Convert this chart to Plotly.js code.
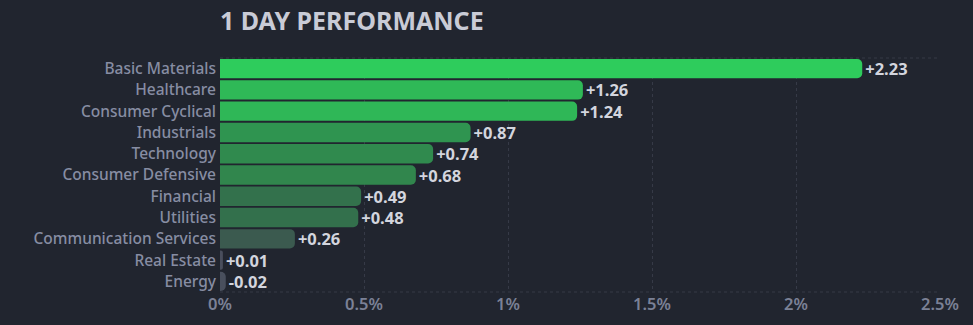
<!DOCTYPE html>
<html>
<head>
<meta charset="utf-8">
<script src="https://cdn.plot.ly/plotly-3.0.1.min.js"></script>
<style>
  html, body { margin: 0; padding: 0; background: #21252f; }
  #chart { width: 973px; height: 325px; }
</style>
</head>
<body>
<div id="chart"></div>
<script>
const sectors = ["Basic Materials", "Healthcare", "Consumer Cyclical", "Industrials", "Technology",
  "Consumer Defensive", "Financial", "Utilities", "Communication Services", "Real Estate", "Energy"];
const changes = [2.23, 1.26, 1.24, 0.87, 0.74, 0.68, 0.49, 0.48, 0.26, 0.01, -0.02];
const xTickVals = [0, 0.5, 1, 1.5, 2, 2.5];
const xTickText = ["0%", "0.5%", "1%", "1.5%", "2%", "2.5%"];

const magnitudes = changes.map(v => Math.abs(v));
const labels = changes.map(v => (v >= 0 ? "+" : "") + v.toFixed(2));

const trace = {
  type: "bar",
  orientation: "h",
  y: sectors,
  x: magnitudes,
  text: labels,
  textposition: "outside",
  constraintext: "none",
  cliponaxis: false,
  textfont: { family: "Noto Sans, sans-serif", size: 16.5, color: "#d3d5de", weight: "bold" },
  marker: {
    color: magnitudes,
    cmin: 0,
    cmax: 2.23,
    colorscale: [
      [0, "#4a4e5e"],
      [0.117, "#3b5a4f"],
      [0.22, "#33714c"],
      [0.305, "#31864d"],
      [0.39, "#2f9450"],
      [0.565, "#2fb957"],
      [1, "#2ecc5c"]
    ],
    cornerradius: 5,
    line: { width: 0 }
  },
  hoverinfo: "none"
};

const layout = {
  width: 973,
  height: 325,
  paper_bgcolor: "#21252f",
  plot_bgcolor: "#21252f",
  margin: { l: 220, r: 33, t: 58, b: 33 },
  bargap: 0.09,
  showlegend: false,
  title: {
    text: "1 DAY PERFORMANCE",
    font: { family: "Noto Sans, sans-serif", size: 25, color: "#c9cbd6", weight: "bold" },
    xref: "paper",
    x: 0,
    xanchor: "left",
    y: 0.935,
    yanchor: "middle"
  },
  xaxis: {
    range: [0, 2.5],
    tickvals: xTickVals,
    ticktext: xTickText,
    showgrid: true,
    gridcolor: "#363a47",
    griddash: "3px,3px",
    gridwidth: 1,
    zeroline: false,
    showline: false,
    ticks: "",
    tickfont: { family: "Noto Sans, sans-serif", size: 16.5, color: "#7b8196", weight: 600 },
    fixedrange: true
  },
  yaxis: {
    categoryorder: "array",
    categoryarray: sectors.slice().reverse(),
    autorange: true,
    showgrid: false,
    zeroline: false,
    showline: false,
    ticks: "",
    ticklabelstandoff: 3,
    tickfont: { family: "Noto Sans, sans-serif", size: 15.5, color: "#878da3", weight: 500 },
    fixedrange: true
  },
  shapes: [
    { type: "line", xref: "paper", yref: "paper", x0: 0, x1: 1, y0: 1, y1: 1,
      line: { color: "#363a47", width: 1, dash: "3px,3px" }, layer: "below" },
    { type: "line", xref: "paper", yref: "paper", x0: 0, x1: 1, y0: 0, y1: 0,
      line: { color: "#363a47", width: 1, dash: "3px,3px" }, layer: "below" }
  ]
};

Plotly.newPlot("chart", [trace], layout, { displayModeBar: false, staticPlot: true });
</script>
</body>
</html>
